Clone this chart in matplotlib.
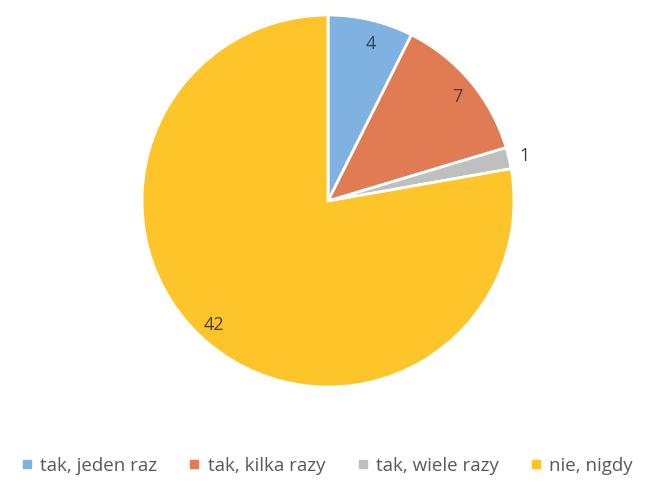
import matplotlib
matplotlib.use("Agg")
import matplotlib.pyplot as plt
from matplotlib.lines import Line2D

labels = ["tak, jeden raz", "tak, kilka razy", "tak, wiele razy", "nie, nigdy"]
values = [4, 7, 1, 42]
colors = ["#7FB2E0", "#E07B53", "#BFBFBF", "#FEC52A"]

plt.rcParams["font.family"] = ["Open Sans", "DejaVu Sans"]

fig = plt.figure(figsize=(6.52, 4.82), dpi=100)
ax = fig.add_axes([142 / 652, 95 / 482, 372 / 652, 372 / 482])

wedges, texts = ax.pie(values, colors=colors, startangle=90, counterclock=False,
                       labels=[str(v) for v in values], labeldistance=0.87,
                       wedgeprops=dict(edgecolor="white", linewidth=2),
                       textprops=dict(color="#404040", fontsize=13))
# small slice label sits outside
x, y = texts[2].get_position()
texts[2].set_position((x * 1.06 / 0.87, y * 1.06 / 0.87))
texts[2].set_ha("left")
texts[2].set_va("center")
for t in texts:
    t.set_clip_on(False)
ax.set_xlim(-1, 1)
ax.set_ylim(-1, 1)
ax.set_aspect("auto")

handles = [Line2D([], [], marker="s", linestyle="none", markersize=6,
                  markerfacecolor=c, markeredgecolor=c) for c in colors]
fig.legend(handles, labels, loc="center", bbox_to_anchor=(0.5, 1 - 466 / 482),
           ncol=4, frameon=False, fontsize=13.5, handlelength=0.8,
           handletextpad=0.3, columnspacing=1.6, labelcolor="#595959")

fig.savefig("out.png", dpi=100)
